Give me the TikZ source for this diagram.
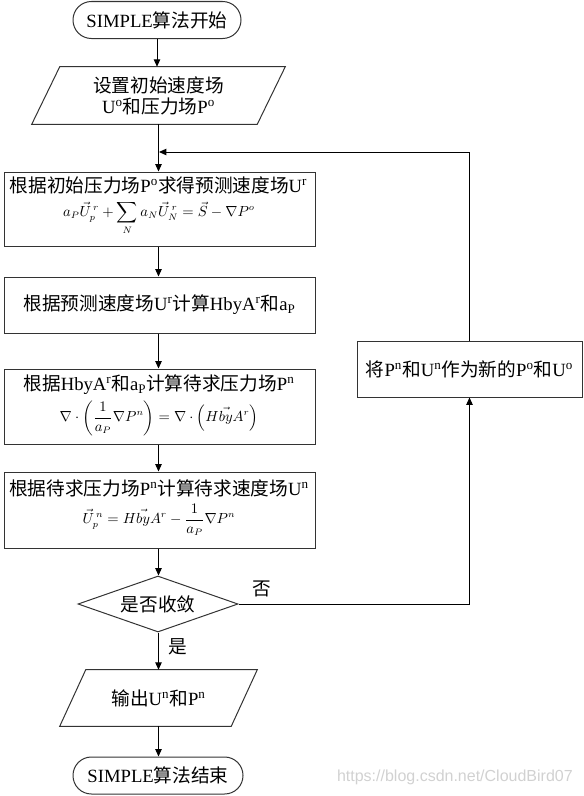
\documentclass[tikz,border=0pt]{standalone}
\usepackage{amsmath}
\usepackage{fontspec}
\setmainfont{Liberation Serif}
\newfontfamily\cjk{Noto Sans CJK SC}
\newfontfamily\wmfont{Liberation Sans}
\usetikzlibrary{shapes.geometric,arrows.meta,calc}
\newcommand{\zh}[1]{{\cjk #1}}
\newcommand{\sps}[1]{\textsuperscript{#1}}
\newcommand{\sbs}[1]{\textsubscript{#1}}
\begin{document}
\begin{tikzpicture}[x=0.75pt,y=-0.75pt,
  every node/.style={font=\fontsize{14}{15.75}\selectfont, inner sep=0pt},
  frame/.style={draw=black!80, line width=0.75pt},
  boxnode/.style={frame, rectangle, minimum width=233.25pt},
  termnode/.style={frame, rectangle, rounded corners=13.8pt, minimum height=27.75pt},
  ionode/.style={rectangle, minimum height=42pt, align=center},
  txt/.style={align=center},
  formula/.style={font=\fontsize{10.5}{12}\selectfont},
  arr/.style={draw=black, line width=0.75pt, -{Triangle[length=5.5pt,width=4.8pt]}},
  wline/.style={draw=black, line width=0.75pt}]
\useasboundingbox (0,0) rectangle (583,796);

% start / end
\node[termnode, minimum width=126pt] (start) at (157,20) {SIMPLE\zh{算法开始}};
\node[termnode, minimum width=127.5pt] (end) at (158,775.5) {SIMPLE\zh{算法结束}};

% input parallelogram
\node[ionode, minimum width=168.75pt, minimum height=42.75pt] (in1) at (158.5,95.5)
  {\zh{设置初始速度场}\\U\sps{o}\zh{和压力场}P\sps{o}};
\draw[frame] ($(in1.south west)+(-14,0)$) -- ($(in1.south east)+(-14,0)$)
  -- ($(in1.north east)+(14,0)$) -- ($(in1.north west)+(14,0)$) -- cycle;

% box 1
\node[boxnode, minimum height=55.5pt] (b1) at (159.5,209) {};
\node[txt] (b1t) at (158.5,185) {\zh{根据初始压力场}P\sps{o}\zh{求得预测速度场}U\sps{r}};
\node[formula] (b1f) at (159,218) {$\displaystyle a_P\vec{U}_p^{\,r}+\sum_N a_N\vec{U}_N^{\,r}=\vec{S}-\nabla P^o$};

% box 2
\node[boxnode, minimum height=42pt] (b2) at (159.5,305)
  {\zh{根据预测速度场}U\sps{r}\zh{计算}HbyA\sps{r}\zh{和}a\sbs{P}};

% box 3
\node[boxnode, minimum height=56.25pt] (b3) at (159.5,406.5) {};
\node[txt] (b3t) at (159,385) {\zh{根据}HbyA\sps{r}\zh{和}a\sbs{P}\zh{计算待求压力场}P\sps{n}};
\node[formula] (b3f) at (159,418) {$\displaystyle \nabla\cdot\left(\frac{1}{a_P}\nabla P^n\right)=\nabla\cdot\left(H\vec{by}A^r\right)$};

% box 4
\node[boxnode, minimum height=57pt] (b4) at (159.5,510) {};
\node[txt] (b4t) at (159,488) {\zh{根据待求压力场}P\sps{n}\zh{计算待求速度场}U\sps{n}};
\node[formula] (b4f) at (159,520) {$\displaystyle \vec{U}_p^{\,n}=H\vec{by}A^r-\frac{1}{a_P}\nabla P^n$};

% decision
\node[frame, diamond, aspect=2.857, minimum width=120pt, minimum height=42pt] (dec) at (158,604) {\zh{是否收敛}};

% output parallelogram
\node[ionode, minimum width=128.25pt] (out) at (158.5,698) {\zh{输出}U\sps{n}\zh{和}P\sps{n}};
\draw[frame] ($(out.south west)+(-13,0)$) -- ($(out.south east)+(-13,0)$)
  -- ($(out.north east)+(13,0)$) -- ($(out.north west)+(13,0)$) -- cycle;

% update box
\node[frame, rectangle, minimum width=168.75pt, minimum height=42pt] (upd) at (469.5,369)
  {\zh{将}P\sps{n}\zh{和}U\sps{n}\zh{作为新的}P\sps{o}\zh{和}U\sps{o}};

% labels
\node (yes) at (178,647) {\zh{是}};
\node (no) at (262,589) {\zh{否}};

% watermark
\node[font=\wmfont\fontsize{12}{14}\selectfont, text=black!18, anchor=east] (wm) at (573,777) {https://blog.csdn.net/CloudBird07};

% connectors
\coordinate (join) at (159,152);
\draw[arr] (start.south) -- (start.south |- in1.north);
\draw[arr] (in1.south) -- (in1.south |- b1.north);
\draw[arr] (b1.south -| in1.south) -- (in1.south |- b2.north);
\draw[arr] (b2.south -| in1.south) -- (in1.south |- b3.north);
\draw[arr] (b3.south -| in1.south) -- (in1.south |- b4.north);
\draw[arr] (b4.south -| in1.south) -- (in1.south |- dec.north);
\draw[arr] (dec.south -| in1.south) -- (in1.south |- out.north);
\draw[arr] (out.south) -- (out.south |- end.north);
\draw[arr] (dec.east) -| (upd.south);
\draw[arr] (upd.north) |- (join);
\end{tikzpicture}
\end{document}
